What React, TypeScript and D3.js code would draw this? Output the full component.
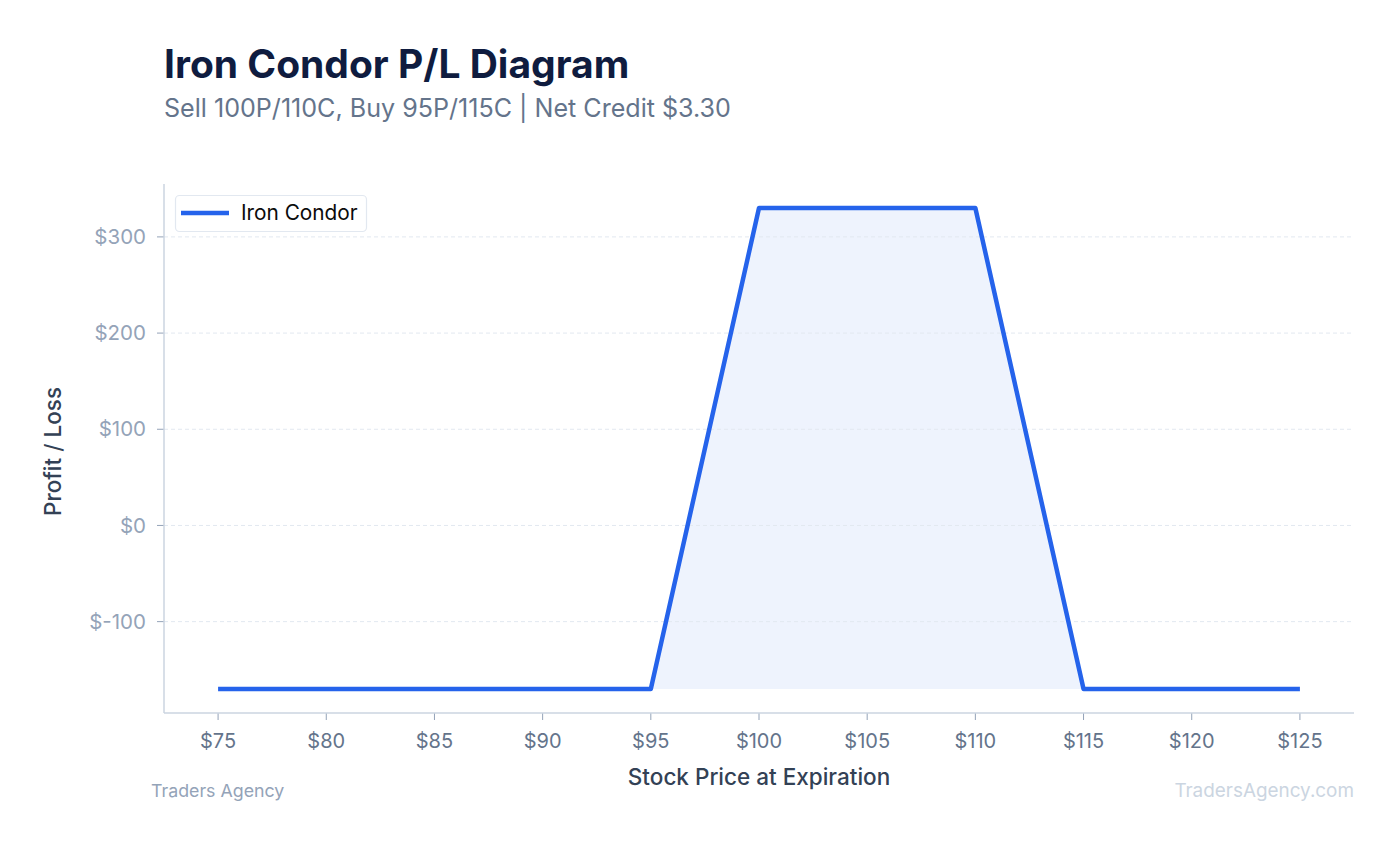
import React from "react";
import * as d3 from "d3";

const prices = [75, 95, 100, 110, 115, 125];
const pnl = [-170, -170, 330, 330, -170, -170];
const xTicks = [75, 80, 85, 90, 95, 100, 105, 110, 115, 120, 125];
const yTicks = [-100, 0, 100, 200, 300];
const title = "Iron Condor P/L Diagram";
const subtitle = "Sell 100P/110C, Buy 95P/115C | Net Credit $3.30";
const seriesName = "Iron Condor";

const W = 1399;
const H = 846;
const FONT = "Inter, 'Noto Sans', sans-serif";

export default function App() {
  const left = 164, right = 1354, top = 184, bottom = 713;
  const x = d3.scaleLinear().domain([72.5, 127.5]).range([left, right]);
  const y = d3.scaleLinear().domain([-195, 355]).range([bottom, top]);
  const pts: [number, number][] = prices.map((p, i) => [p, pnl[i]]);
  const minV = d3.min(pnl) as number;
  const line = d3.line<[number, number]>().x(d => x(d[0])).y(d => y(d[1]));
  const area = d3.area<[number, number]>().x(d => x(d[0])).y0(y(minV)).y1(d => y(d[1]));

  return (
    <svg width={W} height={H} style={{ position: "absolute", left: 0, top: 0, background: "#fff" }} fontFamily={FONT}>
      <rect x={0} y={0} width={W} height={H} fill="#fff" />
      <text x={164} y={78} fontSize={39} fontWeight={700} fill="#0f1c3f">{title}</text>
      <text x={164} y={117} fontSize={25.1} fill="#64748b">{subtitle}</text>

      <path d={area(pts) || ""} fill="#2563eb" fillOpacity={0.08} />

      {yTicks.map(t => (
        <g key={t}>
          <line x1={left} x2={right} y1={y(t)} y2={y(t)} stroke="#e2e8f0" strokeWidth={1} strokeDasharray="4,3" />
          <line x1={left - 7} x2={left} y1={y(t)} y2={y(t)} stroke="#94a3b8" strokeWidth={1} />
          <text x={left - 18} y={y(t)} dy="0.35em" textAnchor="end" fontSize={20.5} fill="#94a3b8">{`$${t}`}</text>
        </g>
      ))}
      {xTicks.map(t => (
        <g key={t}>
          <line x1={x(t)} x2={x(t)} y1={bottom} y2={bottom + 7} stroke="#94a3b8" strokeWidth={1} />
          <text x={x(t)} y={bottom + 35} textAnchor="middle" fontSize={20} fill="#64748b">{`$${t}`}</text>
        </g>
      ))}

      <line x1={left} x2={left} y1={top} y2={bottom} stroke="#cbd5e1" strokeWidth={1.5} />
      <line x1={left} x2={right} y1={bottom} y2={bottom} stroke="#cbd5e1" strokeWidth={1.5} />

      <path d={line(pts) || ""} fill="none" stroke="#2563eb" strokeWidth={4.5} strokeLinejoin="round" />

      <rect x={175.5} y={195.5} width={191} height={36} rx={4} fill="#fff" stroke="#e2e8f0" strokeWidth={1.2} />
      <line x1={181} x2={229} y1={213} y2={213} stroke="#2563eb" strokeWidth={4.5} />
      <text x={241} y={213} dy="0.35em" fontSize={20.8} fill="#0b0b0b">{seriesName}</text>

      <text transform={`translate(61,${(top + bottom) / 2 + 3}) rotate(-90)`} textAnchor="middle" fontSize={22.5} fontWeight={500} fill="#334155">Profit / Loss</text>
      <text x={759} y={785} textAnchor="middle" fontSize={22.5} fontWeight={500} fill="#334155">Stock Price at Expiration</text>

      <text x={151} y={797} fontSize={17.8} fill="#94a3b8">Traders Agency</text>
      <text x={1354} y={797} textAnchor="end" fontSize={18.9} fill="#cbd5e1">TradersAgency.com</text>
    </svg>
  );
}
